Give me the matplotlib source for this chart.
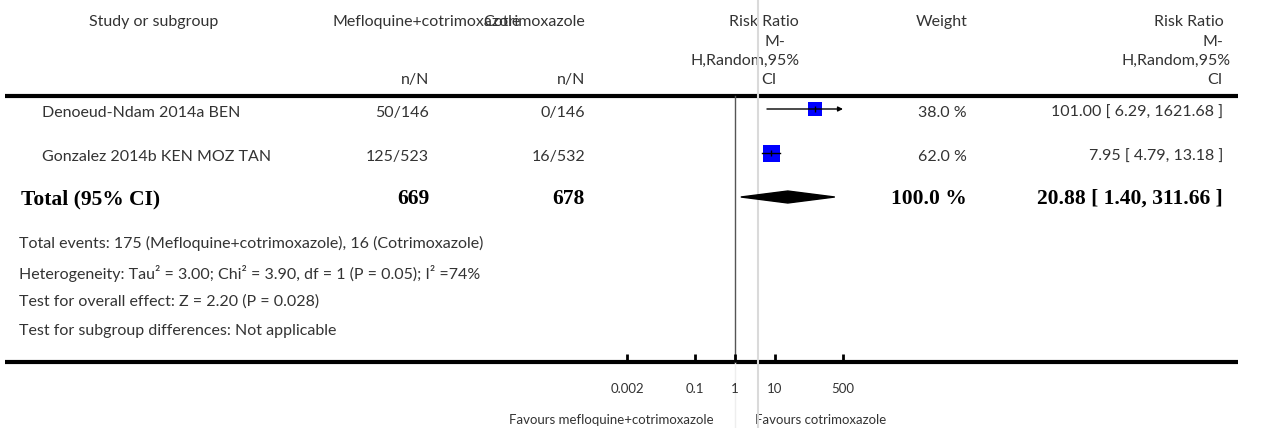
import matplotlib
matplotlib.use('Agg')
import numpy as np
import matplotlib.pyplot as plt
from matplotlib.patches import Polygon
from matplotlib.transforms import blended_transform_factory

# data
studies = ['Denoeud-Ndam 2014a BEN', 'Gonzalez 2014b KEN MOZ TAN']
treat_nN = ['50/146', '125/523']
ctrl_nN = ['0/146', '16/532']
weights = [38.0, 62.0]
rr = [101.00, 7.95]
rr_lo = [6.29, 4.79]
rr_hi = [1621.68, 13.18]

total_treat = 669
total_ctrl = 678
total_weight = 100.0
total_rr = 20.88
total_lo = 1.40
total_hi = 311.66

footer = [
    'Total events: 175 (Mefloquine+cotrimoxazole), 16 (Cotrimoxazole)',
    'Heterogeneity: Tau\u00b2 = 3.00; Chi\u00b2 = 3.90, df = 1 (P = 0.05); I\u00b2 =74%',
    'Test for overall effect: Z = 2.20 (P = 0.028)',
    'Test for subgroup differences: Not applicable',
]
ticks = [0.002, 0.1, 1, 10, 500]
tick_labels = ['0.002', '0.1', '1', '10', '500']
ref_line = 3.76

W, H = 1266, 428
SANS = 'Lato'
SERIF = 'Liberation Serif'
TXT = '#333333'
fs = 11.5
bfs = 15.5


def txt(ax, x, y, s, ha='left', size=fs, bold=False):
    if bold:
        ax.text(x, y, s, ha=ha, va='center', fontfamily=SERIF, fontweight='bold', fontsize=size, color='black')
    else:
        ax.text(x, y, s, ha=ha, va='center', fontfamily=SANS, fontsize=size, color=TXT)


def main():
    fig = plt.figure(figsize=(W / 100, H / 100), dpi=100)
    bg = fig.add_axes([0, 0, 1, 1])
    bg.set_xlim(0, W)
    bg.set_ylim(H, 0)
    bg.axis('off')

    # forest panel: x from 0.002 to 500, y in row units
    x0, x1, ytop, ybot = 627, 843, 96, 362
    ax = fig.add_axes([x0 / W, (H - ybot) / H, (x1 - x0) / W, (ybot - ytop) / H])
    ax.set_xscale('log')
    ax.set_xlim(ticks[0], ticks[-1])
    ax.set_ylim(ybot, ytop)
    ax.patch.set_visible(False)
    for s in ax.spines.values():
        s.set_visible(False)
    ax.set_yticks([])
    ax.set_xticks(ticks)
    ax.set_xticklabels(tick_labels, fontfamily=SANS, fontsize=9.5, color=TXT)
    ax.minorticks_off()
    ax.tick_params(axis='x', direction='in', length=6, width=2, pad=15)

    trans = blended_transform_factory(ax.transData, fig.transFigure)
    ax.plot([ref_line, ref_line], [0, 1], transform=trans, color='#dadada', lw=1.5, clip_on=False, zorder=0)
    ax.plot([1, 1], [(H - ybot) / H, (H - ytop) / H], transform=trans, color='#555555', lw=1, clip_on=False, zorder=1)
    ax.plot([1, 1], [0, (H - ybot) / H], transform=trans, color='#eeeeee', lw=1, clip_on=False, zorder=0)

    # header
    hy = [22, 42, 61, 80]
    txt(bg, 154, hy[0], 'Study or subgroup', ha='center')
    txt(bg, 332, hy[0], 'Mefloquine+cotrimoxazole')
    txt(bg, 585, hy[0], 'Cotrimoxazole', ha='right')
    txt(bg, 429, hy[3], 'n/N', ha='right')
    txt(bg, 585, hy[3], 'n/N', ha='right')
    for yy, t, xr in zip(hy, ['Risk Ratio', 'M-', 'H,Random,95%', 'CI'], [799, 785, 800, 777]):
        txt(bg, xr, yy, t, ha='right')
    for yy, t, xr in zip(hy, ['Risk Ratio', 'M-', 'H,Random,95%', 'CI'], [1224, 1223, 1231, 1223]):
        txt(bg, xr, yy, t, ha='right')
    txt(bg, 968, hy[0], 'Weight', ha='right')

    bg.plot([5, 1238], [ytop, ytop], color='black', lw=3, solid_capstyle='butt')
    bg.plot([5, 1238], [ybot, ybot], color='black', lw=3, solid_capstyle='butt')

    # studies
    row_y = [113, 157]
    k = 17 / np.sqrt(62)
    for i, y in enumerate(row_y):
        txt(bg, 42, y, studies[i])
        txt(bg, 429, y, treat_nN[i], ha='right')
        txt(bg, 585, y, ctrl_nN[i], ha='right')
        txt(bg, 967, y, f'{weights[i]:.1f} %', ha='right')
        txt(bg, 1223, y, f'{rr[i]:.2f} [ {rr_lo[i]:.2f}, {rr_hi[i]:.2f} ]', ha='right')

        my = y - 4
        side = k * np.sqrt(weights[i]) * 0.72
        ax.plot(rr[i], my, marker='s', ms=side, color='#0000ff', mew=0, zorder=3)
        if rr_hi[i] > ticks[-1]:
            ax.annotate('', xy=(ticks[-1], my), xytext=(rr_lo[i], my),
                        arrowprops=dict(arrowstyle='-|>', color='black', lw=1, mutation_scale=7,
                                        shrinkA=0, shrinkB=0), zorder=4)
        else:
            ax.plot([rr_lo[i], rr_hi[i]], [my, my], color='black', lw=1, zorder=4)
        ax.plot(rr[i], my, marker='|', ms=5, color='black', mew=1, zorder=5)

    # total
    ty = 199
    txt(bg, 21, ty, 'Total (95% CI)', bold=True, size=bfs)
    txt(bg, 429, ty, str(total_treat), ha='right', bold=True, size=bfs)
    txt(bg, 585, ty, str(total_ctrl), ha='right', bold=True, size=bfs)
    txt(bg, 967, ty, f'{total_weight:.1f} %', ha='right', bold=True, size=bfs)
    txt(bg, 1223, ty, f'{total_rr:.2f} [ {total_lo:.2f}, {total_hi:.2f} ]', ha='right', bold=True, size=bfs)
    dy = ty - 2
    ax.add_patch(Polygon([(total_lo, dy), (total_rr, dy - 6), (total_hi, dy), (total_rr, dy + 6)],
                         closed=True, color='black', zorder=3))

    for yy, t in zip([243, 273, 302, 331], footer):
        txt(bg, 19, yy, t)

    txt(bg, 714, 420, 'Favours mefloquine+cotrimoxazole', ha='right', size=9.5)
    txt(bg, 755, 420, 'Favours cotrimoxazole', size=9.5)

    fig.savefig('out.png', dpi=100)


if __name__ == '__main__':
    main()
